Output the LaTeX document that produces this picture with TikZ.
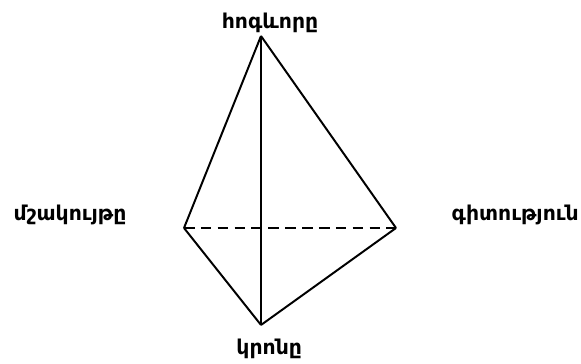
\documentclass[tikz,border=0pt]{standalone}
\usepackage{fontspec}
\newfontfamily\armfont[Script=Armenian]{DejaVu Sans}
\begin{document}
\begin{tikzpicture}[
    vertexlabel/.style={font=\armfont\bfseries\fontsize{14.5}{17}\selectfont, inner sep=0pt},
    edge/.style={line width=1.4pt}
  ]
  \useasboundingbox (0,0) rectangle (14.525,9.1);
  \coordinate (T) at (6.525,8.2);
  \coordinate (L) at (4.6,3.4);
  \coordinate (R) at (9.9,3.4);
  \coordinate (B) at (6.525,0.975);
  \node[vertexlabel] (spirit) at (6.75,8.52) {հոգևորը};
  \node[vertexlabel] (culture) at (1.75,3.72) {մշակույթը};
  \node[vertexlabel] (science) at (12.88,3.72) {գիտություն};
  \node[vertexlabel] (religion) at (6.73,0.38) {կրոնը};
  \draw[edge] (T) -- (L);
  \draw[edge] (T) -- (R);
  \draw[edge] (T) -- (B);
  \draw[edge] (L) -- (B);
  \draw[edge] (R) -- (B);
  \draw[edge, dash pattern=on 7.5pt off 4.5pt] (L) -- (R);
\end{tikzpicture}
\end{document}
